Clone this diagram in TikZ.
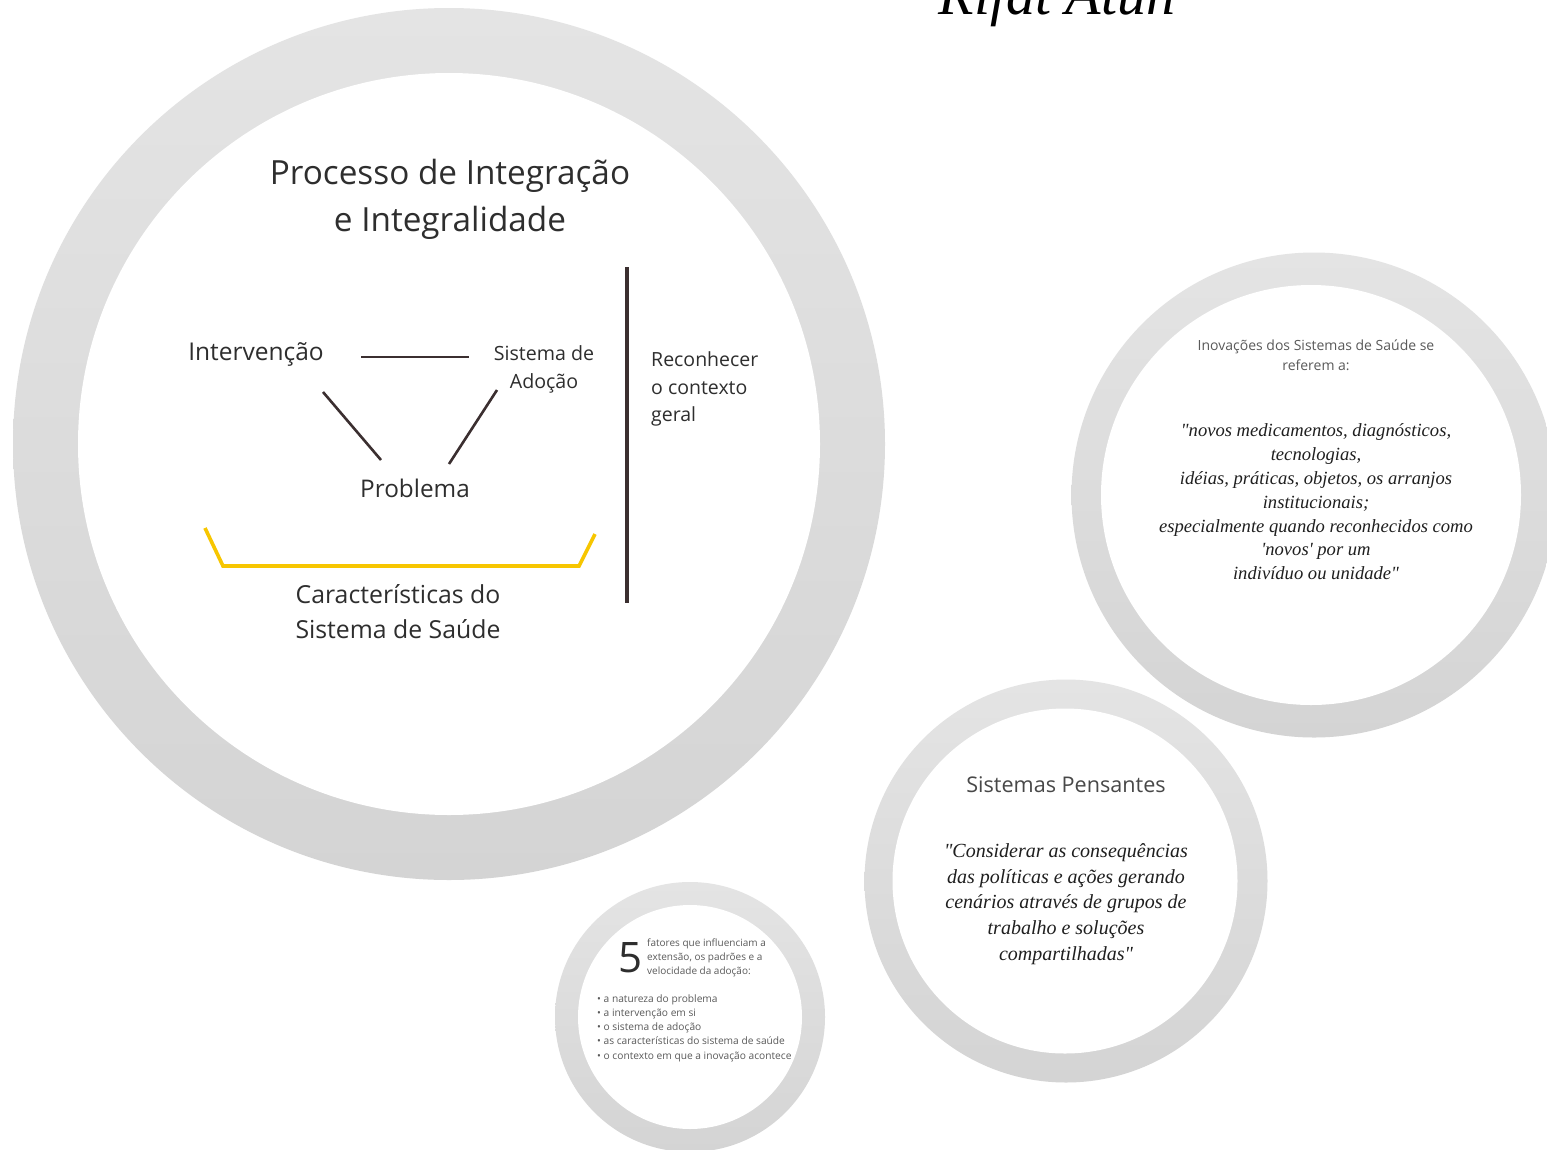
\documentclass[tikz,border=0pt]{standalone}
\usepackage{fontspec}
\setmainfont{Open Sans}
\newfontfamily\quotefont{Liberation Serif}
\usepackage{xcolor}
\usepackage{tikz}
\usetikzlibrary{calc}
\definecolor{ringtop}{HTML}{E4E4E4}
\definecolor{ringbot}{HTML}{D4D4D4}
\definecolor{ink}{HTML}{2E2E2E}
\definecolor{soft}{HTML}{5A5A5A}
\definecolor{linkbrown}{HTML}{3B2F30}
\definecolor{goldline}{HTML}{F7C600}

\begin{document}
\begin{tikzpicture}[x=1pt,y=-1pt,
    ring/.style={circle,inner sep=0pt,top color=ringtop,bottom color=ringbot,draw=none},
    hole/.style={circle,inner sep=0pt,fill=white,draw=none},
    label/.style={inner sep=0pt,text=ink,align=center},
    quote/.style={inner sep=0pt,text=black!88,align=center},
    link/.style={draw=linkbrown,line width=2.6pt},
  ]
  \useasboundingbox (0,0) rectangle (1547,1149);
  \clip (0,0) rectangle (1547,1149);
  \fill[white] (0,0) rectangle (1547,1149);

  % circles
  \node[ring,minimum size=872pt] (bigring) at (449,444) {};
  \node[hole,minimum size=742pt] at (bigring) {};
  \node[ring,minimum size=485pt] (ideaRing) at (1314,495) {};
  \node[hole,minimum size=420pt] at (1311,495) {};
  \node[ring,minimum size=403pt] (thinkRing) at (1066,881) {};
  \node[hole,minimum size=345pt] at (1065,881) {};
  \node[ring,minimum size=270pt] (fiveRing) at (690,1017) {};
  \node[hole,minimum size=224pt] at (690,1017) {};

  % author
  \node[inner sep=0pt,anchor=base,font={\quotefont\itshape\fontsize{58}{60}\selectfont}] (author) at (1057,14) {Rifat Atun};

  % main circle
  \node[label,font={\fontsize{33.3}{47}\selectfont}] (title) at (450,199) {Processo de Integração\\e Integralidade};
  \node[label,font={\fontsize{24.5}{28}\selectfont}] (int) at (256,354) {Intervenção};
  \node[label,font={\fontsize{19.6}{28}\selectfont}] (sis) at (544,369) {Sistema de\\Adoção};
  \node[label,font={\fontsize{24.3}{28}\selectfont}] (prob) at (415,488) {Problema};
  \node[label,align=left,anchor=west,font={\fontsize{19.5}{27.5}\selectfont}] (ctx) at (651,389) {Reconhecer\\o contexto\\geral};
  \node[label,font={\fontsize{24.8}{35}\selectfont}] (carac) at (398,612) {Características do\\Sistema de Saúde};

  \draw[link] ($(int)+(105,3)$) -- ($(sis)+(-75,-12)$);
  \draw[link] ($(int)+(67,38)$) -- ($(prob)+(-34,-28)$);
  \draw[link] ($(sis)+(-47,21)$) -- ($(prob)+(34,-24)$);
  \draw[draw=linkbrown,line width=3.6pt] (627,267) -- (627,603);
  \draw[draw=goldline,line width=3.6pt] (205,528) -- (223,566) -- (579,566) -- (595,534);

  % inovacoes
  \node[label,text=soft,font={\fontsize{14}{20}\selectfont}] (inov) at (1316,355) {Inovações dos Sistemas de Saúde se\\referem a:};
  \node[quote,font={\quotefont\itshape\fontsize{18.6}{23.8}\selectfont}] (inovq) at (1316,502) {"novos medicamentos, diagnósticos,\\tecnologias,\\idéias, práticas, objetos, os arranjos\\institucionais;\\especialmente quando reconhecidos como\\'novos' por um\\indivíduo ou unidade"};

  % sistemas pensantes
  \node[label,text=soft!80!black,font={\fontsize{21.6}{26}\selectfont}] (pens) at (1066,785) {Sistemas Pensantes};
  \node[quote,font={\quotefont\itshape\fontsize{20}{25.8}\selectfont}] (pensq) at (1066,904) {"Considerar as consequências\\das políticas e ações gerando\\cenários através de grupos de\\trabalho e soluções\\compartilhadas"};

  % cinco fatores
  \node[label,font={\fontsize{42}{42}\selectfont}] (five) at (630,958) {5};
  \node[label,text=soft,align=left,anchor=west,font={\fontsize{10}{14}\selectfont}] (fivetxt) at (647,958) {fatores que influenciam a\\extensão, os padrões e a\\velocidade da adoção:};
  \node[label,text=soft,align=left,anchor=west,font={\fontsize{10.2}{14.3}\selectfont}] (fivelist) at (597,1028) {• a natureza do problema\\• a intervenção em si\\• o sistema de adoção\\• as características do sistema de saúde\\• o contexto em que a inovação acontece};
\end{tikzpicture}
\end{document}
